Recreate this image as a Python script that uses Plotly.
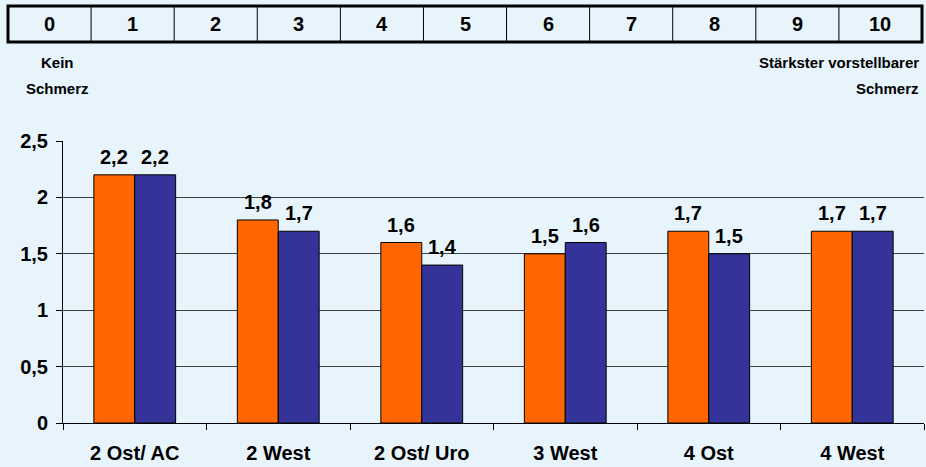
import plotly.graph_objects as go

categories = ["2 Ost/ AC", "2 West", "2 Ost/ Uro", "3 West", "4 Ost", "4 West"]
series_orange = [2.2, 1.8, 1.6, 1.5, 1.7, 1.7]
series_blue = [2.2, 1.7, 1.4, 1.6, 1.5, 1.7]
scale_labels = ["0", "1", "2", "3", "4", "5", "6", "7", "8", "9", "10"]
y_ticks = [0, 0.5, 1, 1.5, 2, 2.5]

W, H = 926, 467
ML, MR, MT, MB = 63, 2, 141, 44
PW = W - ML - MR
PH = H - MT - MB
BG = "#E8F4FC"
FONT = "Liberation Sans"
BARGAP = 0.43
bar_px = PW / len(categories) * (1 - BARGAP) / 2


def px(x):
    return (x - ML) / PW


def py(y):
    return (H - MB - y) / PH


big = dict(family=FONT, size=20, color="#000000", weight="bold")

fig = go.Figure()
annotations = []
for k, (vals, col) in enumerate([(series_orange, "#FF6600"), (series_blue, "#333399")]):
    fig.add_trace(go.Bar(
        x=categories, y=vals,
        marker=dict(color=col, line=dict(color="#000000", width=1)),
        hoverinfo="skip",
    ))
    for c, v in zip(categories, vals):
        annotations.append(dict(x=c, y=v, xref="x", yref="y",
                                text=f"{v:.1f}".replace(".", ","), showarrow=False,
                                xanchor="center", yanchor="bottom",
                                xshift=(k - 0.5) * bar_px, yshift=5, font=big))

shapes = []
box_l, box_r, box_t, box_b = 8, 922, 6, 42
n = len(scale_labels)
cw = (box_r - box_l) / n
for i, lab in enumerate(scale_labels):
    if i > 0:
        xx = box_l + i * cw
        shapes.append(dict(type="line", xref="paper", yref="paper",
                           x0=px(xx), x1=px(xx), y0=py(box_t), y1=py(box_b),
                           line=dict(color="#000000", width=1)))
    annotations.append(dict(xref="paper", yref="paper", x=px(box_l + (i + 0.5) * cw),
                            y=py((box_t + box_b) / 2), text=lab, showarrow=False,
                            xanchor="center", yanchor="middle", font=big))
shapes.append(dict(type="rect", xref="paper", yref="paper",
                   x0=px(box_l), x1=px(box_r), y0=py(box_t), y1=py(box_b),
                   line=dict(color="#000000", width=3)))

small = dict(family=FONT, size=15, color="#000000", weight="bold")
for txt, x, y, anc in [("Kein", 57, 62, "center"), ("Schmerz", 57, 88, "center"),
                       ("Stärkster vorstellbarer", 921, 62, "right"), ("Schmerz", 921, 88, "right")]:
    annotations.append(dict(xref="paper", yref="paper", x=px(x), y=py(y), text=txt,
                            showarrow=False, xanchor=anc, yanchor="middle", font=small))

fig.update_layout(
    width=W, height=H,
    margin=dict(l=ML, r=MR, t=MT, b=MB),
    paper_bgcolor=BG, plot_bgcolor=BG,
    barmode="group", bargap=BARGAP, bargroupgap=0,
    showlegend=False,
    separators=",.",
    shapes=shapes, annotations=annotations,
    xaxis=dict(showline=True, linecolor="#000000", linewidth=1, ticks="outside",
               tickson="boundaries", ticklen=6, tickcolor="#000000",
               tickfont=big, ticklabelstandoff=12, showgrid=False),
    yaxis=dict(range=[0, 2.5], tickvals=y_ticks, showline=True, linecolor="#000000",
               linewidth=1, ticks="outside", ticklen=6, tickcolor="#000000",
               showgrid=True, gridcolor="#404040", gridwidth=1, zeroline=False,
               tickfont=big, ticklabelstandoff=4),
)

fig.write_html("out.html", config={"displayModeBar": False})
with open("out.html", encoding="utf-8") as f:
    html = f.read()
html = html.replace("<head>", "<head><style>html,body{margin:0;padding:0;overflow:hidden;}</style>", 1)
with open("out.html", "w", encoding="utf-8") as f:
    f.write(html)
